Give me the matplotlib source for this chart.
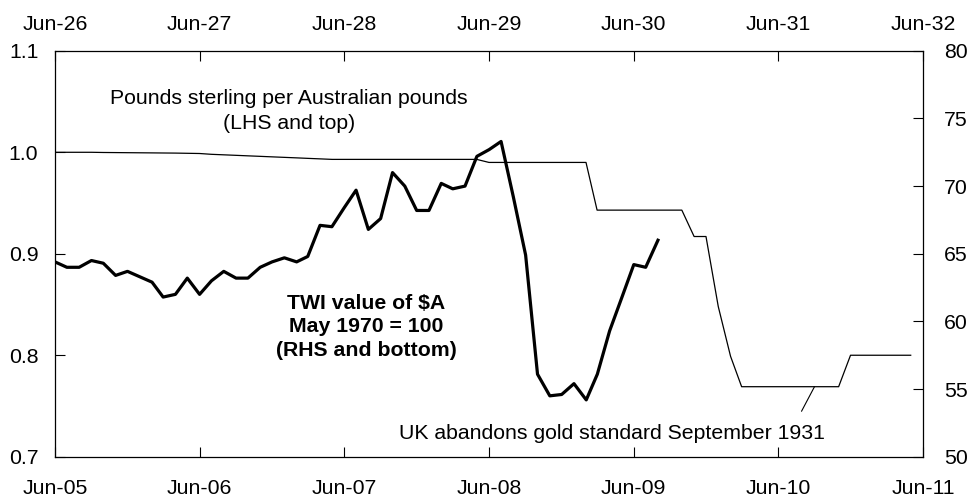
import datetime as dt

import matplotlib
matplotlib.use("Agg")
import matplotlib.pyplot as plt
import matplotlib.dates as mdates
import pandas as pd

plt.rcParams['font.family'] = ['Liberation Sans', 'DejaVu Sans']

# TWI value of $A (May 1970 = 100), monthly from Jun-2005
twi_start = '2005-06-01'
twi_values = [64.4, 64.0, 64.0, 64.5, 64.3, 63.4, 63.7, 63.3, 62.9, 61.8,
              62.0, 63.2, 62.0, 63.0, 63.7, 63.2, 63.2, 64.0, 64.4, 64.7,
              64.4, 64.8, 67.1, 67.0, 68.4, 69.7, 66.8, 67.6, 71.0, 70.0,
              68.2, 68.2, 70.2, 69.8, 70.0, 72.2, 72.7, 73.3, 69.2, 64.9,
              56.1, 54.5, 54.6, 55.4, 54.2, 56.1, 59.3, 61.7, 64.2, 64.0,
              66.0]

# Pounds sterling per Australian pound, monthly from Jun-1926
gbp_start = '1926-06-01'
gbp_values = [1.000, 1.000, 1.000, 1.000, 0.9998, 0.9997, 0.9996, 0.9995,
              0.9994, 0.9993, 0.9992, 0.999, 0.9988, 0.998, 0.9975, 0.997,
              0.9965, 0.996, 0.9955, 0.995, 0.9945, 0.994, 0.9935, 0.993,
              0.993, 0.993, 0.993, 0.993, 0.993, 0.993, 0.993, 0.993,
              0.993, 0.993, 0.993, 0.993, 0.990, 0.990, 0.990, 0.990,
              0.990, 0.990, 0.990, 0.990, 0.990, 0.943, 0.943, 0.943,
              0.943, 0.943, 0.943, 0.943, 0.943, 0.917, 0.917, 0.848,
              0.799, 0.769, 0.769, 0.769, 0.769, 0.769, 0.769, 0.769,
              0.769, 0.769, 0.800, 0.800, 0.800, 0.800, 0.800, 0.800]

twi_dates = pd.date_range(twi_start, periods=len(twi_values), freq='MS')
gbp_dates = pd.date_range(gbp_start, periods=len(gbp_values), freq='MS')

fig = plt.figure(figsize=(9.68, 5.03), dpi=100)
rect = [0.0568, 0.092, 0.8967, 0.807]
fs = 15.3

# bottom / right axes: TWI
ax1 = fig.add_axes(rect)
ax1.plot(twi_dates, twi_values, color='black', lw=2.3, zorder=3)
ax1.set_xlim(dt.datetime(2005, 6, 1), dt.datetime(2011, 6, 1))
ax1.set_ylim(50, 80)
ax1.set_yticks([50, 55, 60, 65, 70, 75, 80])
ax1.yaxis.tick_right()
ax1.xaxis.tick_bottom()
ax1.xaxis.set_major_locator(mdates.MonthLocator(bymonth=6))
ax1.xaxis.set_major_formatter(mdates.DateFormatter('%b-%y'))

# top / left axes: pounds sterling
ax2 = fig.add_axes(rect, frameon=False)
ax2.plot(gbp_dates, gbp_values, color='black', lw=0.9, zorder=2)
ax2.set_xlim(dt.datetime(1926, 6, 1), dt.datetime(1932, 6, 1))
ax2.set_ylim(0.7, 1.1)
ax2.set_yticks([0.7, 0.8, 0.9, 1.0, 1.1])
ax2.yaxis.set_major_formatter(matplotlib.ticker.FormatStrFormatter('%.1f'))
ax2.yaxis.tick_left()
ax2.xaxis.tick_top()
ax2.xaxis.set_major_locator(mdates.MonthLocator(bymonth=6))
ax2.xaxis.set_major_formatter(mdates.DateFormatter('%b-%y'))

for ax in (ax1, ax2):
    ax.tick_params(direction='in', length=7, width=0.8, labelsize=fs,
                   colors='black', pad=12)
ax1.tick_params(axis='y', pad=15)
ax1.tick_params(axis='x', pad=16)
for s in ax1.spines.values():
    s.set_linewidth(0.9)
    s.set_color('black')

ax2.text(dt.datetime(1928, 1, 13), 1.041,
         'Pounds sterling per Australian pounds\n(LHS and top)',
         ha='center', va='center', fontsize=fs, linespacing=1.4)

ax1.text(dt.datetime(2007, 7, 27), 59.6,
         'TWI value of $A\nMay 1970 = 100\n(RHS and bottom)',
         ha='center', va='center', fontsize=fs, fontweight='bold',
         linespacing=1.3)

ax2.annotate('UK abandons gold standard September 1931',
             xy=(dt.datetime(1931, 9, 1), 0.769),
             xytext=(dt.datetime(1930, 4, 7), 0.723),
             ha='center', va='center', fontsize=fs,
             arrowprops=dict(arrowstyle='-', color='black', lw=0.8,
                             relpos=(0.93, 1.0), shrinkA=8, shrinkB=0))

fig.savefig('out.png', dpi=100)
